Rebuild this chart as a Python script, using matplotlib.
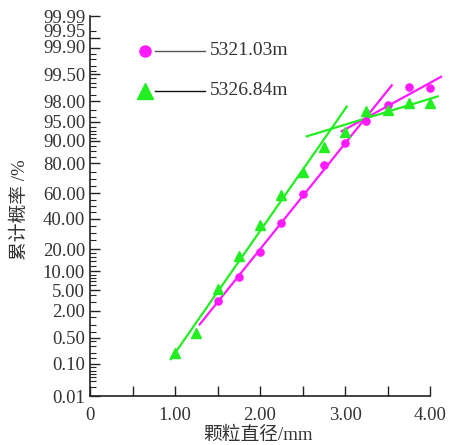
import numpy as np
import matplotlib
matplotlib.use("Agg")
import matplotlib.pyplot as plt
import matplotlib.transforms as mtransforms
from statistics import NormalDist

plt.rcParams['font.family'] = ['Liberation Serif', 'Noto Sans CJK SC']

# Data (cumulative probability in %)
x_a = [1.5, 1.75, 2.0, 2.25, 2.5, 2.75, 3.0, 3.25, 3.5, 3.75, 4.0]
p_a = [3.1, 8.2, 18.4, 37.0, 59.0, 79.0, 89.0, 95.2, 97.6, 99.0, 98.95]
x_b = [1.0, 1.25, 1.5, 1.75, 2.0, 2.25, 2.5, 2.75, 3.0, 3.25, 3.5, 3.75, 4.0]
p_b = [0.2, 0.64, 5.2, 16.3, 35.5, 58.5, 74.8, 87.6, 92.7, 96.9, 97.0, 97.8, 97.8]
label_a = "5321.03m"
label_b = "5326.84m"

# fit segments: (first x, last x) used for the fit, (start, end) drawn
seg_a = [((1.5, 3.25), (1.29, 3.55)), ((3.25, 4.0), (2.96, 4.13))]
seg_b = [((1.0, 2.75), (0.95, 3.02)), ((3.0, 4.0), (2.55, 4.09))]

yticks = [0.01, 0.10, 0.50, 2.00, 5.00, 10.00, 20.00, 40.00, 60.00, 80.00,
          90.00, 95.00, 98.00, 99.50, 99.90, 99.95, 99.99]
yminor = [0.02, 0.03, 0.04, 0.05, 0.06, 0.08, 0.15, 0.2, 0.3, 0.4, 0.7, 1.0,
          1.5, 3, 4, 6, 7, 8, 9, 12, 14, 16, 18, 25, 30, 35, 45, 50, 55, 65,
          70, 75, 83, 86, 88, 91, 92, 93, 94, 96, 97, 98.5, 99, 99.2, 99.4,
          99.6, 99.7, 99.8, 99.85, 99.97]

nd = NormalDist()


def z(p):
    return np.array([nd.inv_cdf(v / 100.0) for v in np.atleast_1d(p)])


magenta = '#ff1aff'
green = '#22ee22'

fig = plt.figure(figsize=(4.53, 4.45), dpi=100)
ax = fig.add_axes([0.1987, 0.1101, 0.7506, 0.8539])


def draw_series(xs, ps, segs, color, marker, ms):
    xs = np.array(xs)
    zs = z(ps)
    ax.plot(xs, zs, linestyle='none', marker=marker, color=color,
            markersize=ms, clip_on=False, zorder=3)
    for (lo, hi), (x0, x1) in segs:
        m = (xs >= lo - 1e-9) & (xs <= hi + 1e-9)
        k, b = np.polyfit(xs[m], zs[m], 1)
        xx = np.array([x0, x1])
        ax.plot(xx, k * xx + b, color=color, lw=1.6, clip_on=False, zorder=2)


draw_series(x_a, p_a, seg_a, magenta, 'o', 5.2)
draw_series(x_b, p_b, seg_b, green, '^', 7.5)

ax.set_xlim(0, 4.0)
ax.set_ylim(z(0.01)[0], z(99.99)[0])
ax.set_xticks(np.arange(0, 4.01, 0.5))
ax.set_xticklabels(['0', '', '1.00', '', '2.00', '', '3.00', '', '4.00'])
ax.set_yticks(z(yticks))
ax.set_yticklabels(['%.2f' % v for v in yticks])
ax.set_yticks(z(yminor), minor=True)

for s in ['top', 'right']:
    ax.spines[s].set_visible(False)
for s in ['left', 'bottom']:
    ax.spines[s].set_linewidth(1.2)
    ax.spines[s].set_color('#222222')
ax.tick_params(axis='both', which='major', direction='in', length=7,
               width=1.0, labelsize=13.5, colors='#222222', labelcolor='#333333')
ax.tick_params(axis='y', which='minor', direction='in', length=4, width=0.8,
               colors='#222222')
ax.tick_params(axis='x', which='major', pad=8)

# crowded labels near the top: nudge 99.95 up, 99.90 a little up
shifts = {'99.95': 5.0, '99.90': 1.5}
for lab in ax.get_yticklabels():
    if lab.get_text() in shifts:
        off = mtransforms.ScaledTranslation(0, shifts[lab.get_text()] / 72.0,
                                            fig.dpi_scale_trans)
        lab.set_transform(lab.get_transform() + off)

ax.set_xlabel('颗粒直径/mm', fontsize=13.5, color='#333333')
ax.xaxis.set_label_coords(0.495, -0.08)
ax.set_ylabel('累计概率 /%', fontsize=13.5, color='#333333')
ax.yaxis.set_label_coords(-0.18, 0.49)

# legend drawn in axes coordinates
rows = [(0.908, magenta, 'o', 8, label_a, '#555555'),
        (0.803, green, '^', 11, label_b, '#111111')]
for yy, col, mk, ms, lab, lc in rows:
    ax.plot([0.162], [yy], marker=mk, color=col, markersize=ms,
            transform=ax.transAxes, clip_on=False)
    ax.plot([0.19, 0.338], [yy, yy], color=lc, lw=1.0,
            transform=ax.transAxes, clip_on=False)
    ax.text(0.352, yy, lab, transform=ax.transAxes, fontsize=14,
            va='center', ha='left', color='#333333')

fig.savefig('out.png', dpi=100)
